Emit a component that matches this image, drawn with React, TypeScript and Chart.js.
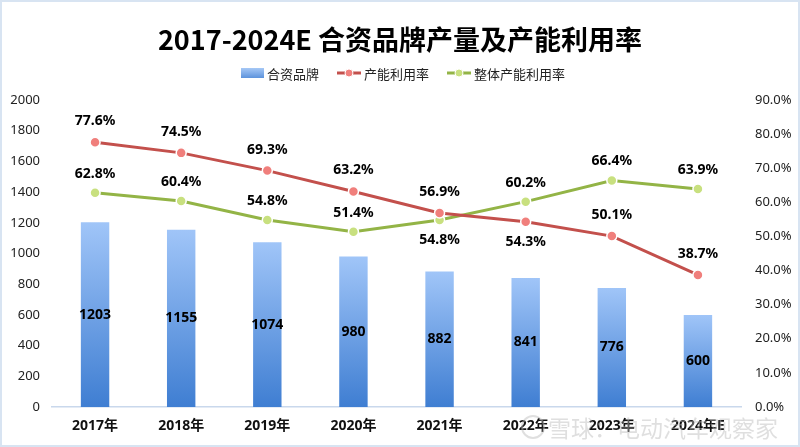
import React, { useEffect, useRef } from "react";
import { Chart, registerables } from "chart.js";

Chart.register(...registerables);

const titleText = "2017-2024E 合资品牌产量及产能利用率";
const categories = ["2017年", "2018年", "2019年", "2020年", "2021年", "2022年", "2023年", "2024年E"];
const production = [1203, 1155, 1074, 980, 882, 841, 776, 600];
const utilization = [77.6, 74.5, 69.3, 63.2, 56.9, 54.3, 50.1, 38.7];
const overallUtilization = [62.8, 60.4, 54.8, 51.4, 54.8, 60.2, 66.4, 63.9];
const seriesNames = ["合资品牌", "产能利用率", "整体产能利用率"];
const watermark = "雪球：电动汽车观察家";

const LATIN = '"Noto Sans", "Noto Sans CJK SC", sans-serif';
const CJK = '"Noto Sans CJK SC", "Noto Sans", sans-serif';

const RED = "#c3504c";
const RED_PT = "#f07f7c";
const GREEN = "#93b446";
const GREEN_PT = "#c8e07f";

const decorPlugin = {
  id: "decor",
  afterDatasetsDraw(chart: any) {
    const ctx = chart.ctx;
    ctx.save();
    ctx.fillStyle = "#000";
    ctx.textAlign = "center";
    ctx.textBaseline = "middle";
    ctx.font = `bold 14px ${LATIN}`;
    const barMeta = chart.getDatasetMeta(0);
    barMeta.data.forEach((el: any, i: number) => {
      ctx.fillText(String(production[i]), el.x, (el.y + el.base) / 2);
    });
    const redMeta = chart.getDatasetMeta(1);
    const greenMeta = chart.getDatasetMeta(2);
    for (let i = 0; i < categories.length; i++) {
      const r = utilization[i];
      const g = overallUtilization[i];
      const close = Math.abs(r - g) < 7;
      const redBelow = close && r < g;
      const greenBelow = close && g < r;
      const re = redMeta.data[i];
      const ge = greenMeta.data[i];
      ctx.fillText(r.toFixed(1) + "%", re.x, re.y + (redBelow ? 20 : -21));
      ctx.fillText(g.toFixed(1) + "%", ge.x, ge.y + (greenBelow ? 20 : -19));
    }
    ctx.restore();
  },
  afterDraw(chart: any) {
    const ctx = chart.ctx;
    const W = chart.width;
    const H = chart.height;
    ctx.save();
    ctx.strokeStyle = "#d8e4f2";
    ctx.lineWidth = 2;
    ctx.strokeRect(1, 1, W - 2, H - 2);
    ctx.fillStyle = "#000";
    ctx.textAlign = "center";
    ctx.textBaseline = "middle";
    ctx.font = `bold 27px ${CJK}`;
    ctx.fillText(titleText, W / 2, 40);
    ctx.font = `13px ${CJK}`;
    ctx.textAlign = "left";
    const ly = 73;
    const gap = 18;
    const items = seriesNames.map((n, i) => ({ n, icon: i === 0 ? 23 : 24, w: ctx.measureText(n).width }));
    const total = items.reduce((s, it) => s + it.icon + 3 + it.w, 0) + gap * (items.length - 1);
    let x = W / 2 - total / 2 + 3;
    items.forEach((it, i) => {
      if (i === 0) {
        const grad = ctx.createLinearGradient(0, ly - 5, 0, ly + 5);
        grad.addColorStop(0, "#a6c8f6");
        grad.addColorStop(1, "#5d93dc");
        ctx.fillStyle = grad;
        ctx.fillRect(x, ly - 5, it.icon, 10);
      } else {
        const lc = i === 1 ? RED : GREEN;
        const pc = i === 1 ? RED_PT : GREEN_PT;
        ctx.strokeStyle = lc;
        ctx.lineWidth = 3;
        ctx.beginPath();
        ctx.moveTo(x, ly);
        ctx.lineTo(x + it.icon, ly);
        ctx.stroke();
        ctx.fillStyle = pc;
        ctx.strokeStyle = "#fff";
        ctx.lineWidth = 1;
        ctx.beginPath();
        ctx.arc(x + it.icon / 2, ly, 4, 0, Math.PI * 2);
        ctx.fill();
        ctx.stroke();
      }
      ctx.fillStyle = "#222";
      ctx.fillText(it.n, x + it.icon + 3, ly + 1);
      x += it.icon + 3 + it.w + gap;
    });
    ctx.globalAlpha = 0.45;
    ctx.fillStyle = "#b8b8b8";
    ctx.font = `23px ${CJK}`;
    ctx.textAlign = "left";
    ctx.fillText(watermark, 548, 428);
    ctx.strokeStyle = "#b8b8b8";
    ctx.lineWidth = 2;
    ctx.beginPath();
    ctx.arc(533, 427, 11, 0, Math.PI * 2);
    ctx.stroke();
    ctx.restore();
  },
};

export default function App() {
  const ref = useRef<HTMLCanvasElement | null>(null);
  useEffect(() => {
    document.body.style.margin = "0";
    const canvas = ref.current;
    if (!canvas) return;
    const chart = new Chart(canvas, {
      type: "bar",
      data: {
        labels: categories,
        datasets: [
          {
            type: "bar",
            label: seriesNames[0],
            data: production,
            yAxisID: "y",
            order: 3,
            barPercentage: 0.33,
            categoryPercentage: 1,
            backgroundColor: (c: any) => {
              const ch = c.chart;
              if (!ch.chartArea || c.raw == null) return "#7aa9ea";
              const ys = ch.scales.y;
              const top = ys.getPixelForValue(c.raw);
              const bottom = ys.getPixelForValue(0);
              const g = ch.ctx.createLinearGradient(0, top, 0, bottom);
              g.addColorStop(0, "#a0c5f8");
              g.addColorStop(1, "#3f7ed2");
              return g;
            },
          } as any,
          {
            type: "line",
            label: seriesNames[1],
            data: utilization,
            yAxisID: "y1",
            order: 1,
            borderColor: RED,
            borderWidth: 3,
            pointBackgroundColor: RED_PT,
            pointBorderColor: "#fff",
            pointBorderWidth: 1.5,
            pointRadius: 5,
            tension: 0,
          } as any,
          {
            type: "line",
            label: seriesNames[2],
            data: overallUtilization,
            yAxisID: "y1",
            order: 2,
            borderColor: GREEN,
            borderWidth: 3,
            pointBackgroundColor: GREEN_PT,
            pointBorderColor: "#fff",
            pointBorderWidth: 1.5,
            pointRadius: 5,
            tension: 0,
          } as any,
        ],
      },
      options: {
        animation: false,
        responsive: false,
        maintainAspectRatio: false,
        layout: { padding: { top: 100, left: 0, right: 0, bottom: 0 } },
        plugins: {
          legend: { display: false },
          title: { display: false },
          tooltip: { enabled: false },
        },
        scales: {
          x: {
            grid: { display: false, drawTicks: false },
            border: { display: true, color: "#c9d8ec", width: 1.5 },
            ticks: { font: { family: LATIN, size: 14, weight: "bold" }, color: "#111", padding: 11 },
            afterFit: (s: any) => { s.height = 40; },
          },
          y: {
            position: "left",
            min: 0,
            max: 2000,
            grid: { display: false, drawTicks: false },
            border: { display: false },
            ticks: {
              stepSize: 200,
              font: { family: LATIN, size: 13 },
              color: "#222",
              padding: 12,
              callback: (v: any) => String(v),
            },
            afterFit: (s: any) => { s.width = 52; },
          },
          y1: {
            position: "right",
            min: 0,
            max: 90,
            grid: { display: false, drawTicks: false },
            border: { display: false },
            ticks: {
              stepSize: 10,
              font: { family: LATIN, size: 13 },
              color: "#222",
              padding: 14,
              callback: (v: any) => Number(v).toFixed(1) + "%",
            },
            afterFit: (s: any) => { s.width = 59; },
          },
        },
      } as any,
      plugins: [decorPlugin],
    });
    return () => chart.destroy();
  }, []);
  return (
    <div style={{ width: 800, height: 447 }}>
      <canvas ref={ref} width={800} height={447} style={{ display: "block", width: 800, height: 447 }} />
    </div>
  );
}
